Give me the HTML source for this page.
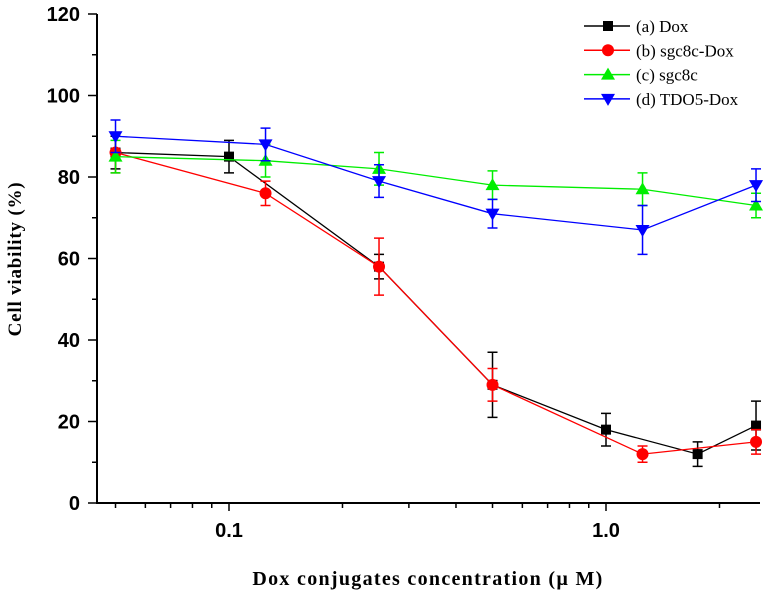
<!DOCTYPE html>
<html><head><meta charset="utf-8"><style>
body{margin:0;background:#fff}
svg text{font-family:"Liberation Sans",sans-serif}
</style></head><body>
<svg id="c" width="769" height="596" xmlns="http://www.w3.org/2000/svg"></svg>
<script>
const yTicks=[0,20,40,60,80,100,120];
const xTickLabels=["0.1","1.0"];
const xTickVals=[0.1,1.0];
const xMinor=[0.05,0.06,0.07,0.08,0.09,0.2,0.3,0.4,0.5,0.6,0.7,0.8,0.9,2.0];
const doseA=[0.05,0.1,0.25,0.5,1.0,1.75,2.5];
const valA=[86,85,58,29,18,12,19];
const errA=[4,4,3,8,4,3,6];
const doseB=[0.05,0.125,0.25,0.5,1.25,2.5];
const valB=[86,76,58,29,12,15];
const errB=[5,3,7,4,2,3];
const doseC=[0.05,0.125,0.25,0.5,1.25,2.5];
const valC=[85,84,82,78,77,73];
const errC=[4,4,4,3.5,4,3];
const doseD=[0.05,0.125,0.25,0.5,1.25,2.5];
const valD=[90,88,79,71,67,78];
const errD=[4,4,4,3.5,6,4];
const names=["(a) Dox","(b) sgc8c-Dox","(c) sgc8c","(d) TDO5-Dox"];

const svg=document.getElementById('c');
const NS="http://www.w3.org/2000/svg";
const X=v=>229+377*Math.log10(v/0.1);
const Y=v=>503-v*(489/120);
function el(t,a,p){const e=document.createElementNS(NS,t);for(const k in a)e.setAttribute(k,a[k]);(p||svg).appendChild(e);return e;}

const ax=el('g',{});


el('line',{x1:97,y1:14,x2:97,y2:503,stroke:'#000','stroke-width':2},ax);
el('line',{x1:96,y1:503,x2:760,y2:503,stroke:'#000','stroke-width':2},ax);
yTicks.forEach(v=>{
  el('line',{x1:88,x2:97,y1:Y(v),y2:Y(v),stroke:'#000','stroke-width':1.5},ax);
  if(v<120) el('line',{x1:92,x2:97,y1:Y(v+10),y2:Y(v+10),stroke:'#000','stroke-width':1.5},ax);
  const t=el('text',{x:80,y:Y(v)+7,'text-anchor':'end','font-size':20,'font-weight':'bold'},ax);
  
  
  t.textContent=v;
});
xTickVals.forEach((v,i)=>{
  el('line',{x1:X(v),x2:X(v),y1:503,y2:511,stroke:'#000','stroke-width':1.5},ax);
  const t=el('text',{x:X(v),y:537,'text-anchor':'middle','font-size':20,'font-weight':'bold'},ax);
  
  
  t.textContent=xTickLabels[i];
});
xMinor.forEach(v=>el('line',{x1:X(v),x2:X(v),y1:503,y2:508,stroke:'#000','stroke-width':1.5},ax));
const yt=el('text',{x:0,y:0,transform:'translate(21,259) rotate(-90)','text-anchor':'middle','font-size':19,'font-weight':'bold','letter-spacing':'0.8',style:'font-family:"Liberation Serif",serif'});


yt.textContent='Cell viability (%)';
const xt=el('text',{x:428,y:585,'text-anchor':'middle','font-size':20,'font-weight':'bold','letter-spacing':'1.3',style:'font-family:"Liberation Serif",serif'});


xt.textContent='Dox conjugates concentration (\u00b5 M)';

function marker(type,x,y,c,g){
  if(type==0) return el('rect',{x:x-5,y:y-5,width:10,height:10,fill:c},g);
  if(type==1) return el('circle',{cx:x,cy:y,r:6,fill:c},g);
  if(type==2) return el('polygon',{points:`${x},${y-7} ${x-7},${y+5} ${x+7},${y+5}`,fill:c},g);
  return el('polygon',{points:`${x},${y+7} ${x-7},${y-5} ${x+7},${y-5}`,fill:c},g);
}
const series=[[doseA,valA,errA,'#000'],[doseB,valB,errB,'#ff0000'],[doseC,valC,errC,'#00ee00'],[doseD,valD,errD,'#0000ff']];
series.forEach((s,si)=>{
  const [d,v,e,c]=s;
  const g=el('g',{});
  
  
  el('polyline',{points:d.map((x,i)=>X(x)+','+Y(v[i])).join(' '),fill:'none',stroke:c,'stroke-width':1.3},g);
  d.forEach((x,i)=>{
    const px=X(x),t=Y(v[i]+e[i]),b=Y(v[i]-e[i]);
    el('path',{d:`M${px},${t}V${b}M${px-5},${t}H${px+5}M${px-5},${b}H${px+5}`,stroke:c,'stroke-width':1.5,fill:'none'},g);
    const m=marker(si,px,Y(v[i]),c,g);
    
    
  });
});
const lg=el('g',{});


names.forEach((n,i)=>{
  const y=26+i*24.3,c=series[i][3];
  const e=el('g',{},lg);
  
  
  el('line',{x1:584,x2:630,y1:y,y2:y,stroke:c,'stroke-width':1.5},e);
  marker(i,608,y,c,e);
  const t=el('text',{x:636,y:y+6,'font-size':17,style:'font-family:"Liberation Serif",serif'},e);
  t.textContent=n;
});
</script>
</body></html>
